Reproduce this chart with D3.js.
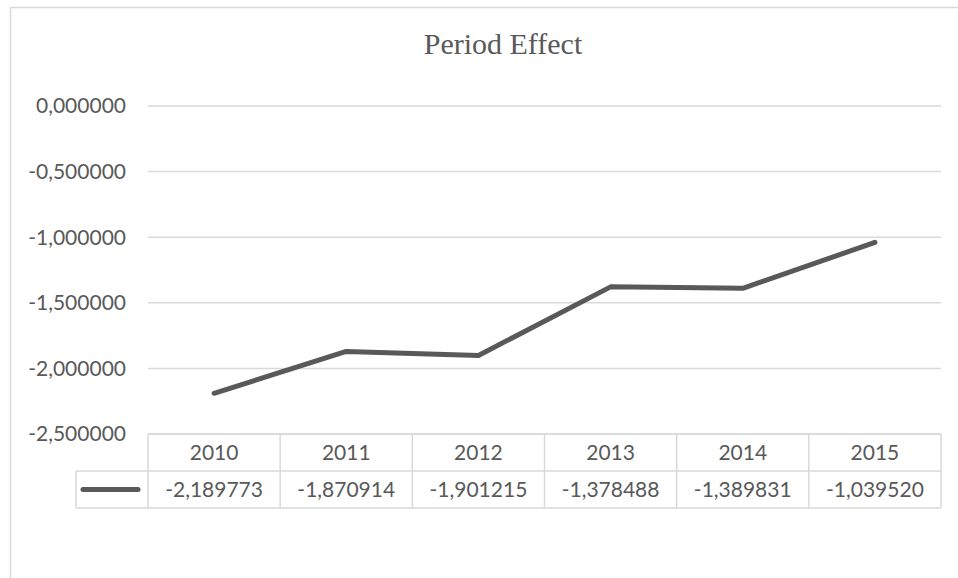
<!DOCTYPE html>
<html>
<head>
<meta charset="utf-8">
<script src="https://cdn.jsdelivr.net/npm/d3@7"></script>
<style>
  body { margin: 0; background: #fff; }
  svg { display: block; }
</style>
</head>
<body>
<div id="chart"></div>
<script>
var years = ["2010", "2011", "2012", "2013", "2014", "2015"];
var periodEffect = [-2.189773, -1.870914, -1.901215, -1.378488, -1.389831, -1.03952];
var yTicks = [0, -0.5, -1, -1.5, -2, -2.5];

var svgWidth = 958;
var svgHeight = 578;

// plot area (table sits right under it)
var plot = { left: 148, right: 941, top: 106, bottom: 434 };
var rowH = 37;
var legendLeft = 76;

var textColor = "#595959";
var gridColor = "#d9d9d9";

var svg = d3
  .select("#chart")
  .append("svg")
  .attr("width", svgWidth)
  .attr("height", svgHeight);

// comma as decimal separator, plain hyphen for minus
var locale = d3.formatLocale({ decimal: ",", thousands: ".", grouping: [3], currency: ["", ""], minus: "-" });
var fmt = locale.format(".6f");

// chart border (wider than the window, so right/bottom are clipped)
svg.append("rect")
  .attr("x", 10.5)
  .attr("y", 7.5)
  .attr("width", 980)
  .attr("height", 600)
  .attr("fill", "none")
  .attr("stroke", gridColor)
  .attr("stroke-width", 1.5);

var xScale = d3.scaleBand()
  .domain(years)
  .range([plot.left, plot.right]);

var yScale = d3.scaleLinear()
  .domain([-2.5, 0])
  .range([plot.bottom, plot.top]);

// title
svg.append("text")
  .attr("x", 503)
  .attr("y", 54)
  .attr("text-anchor", "middle")
  .attr("font-family", "'Liberation Serif', 'Times New Roman', serif")
  .attr("font-size", "30px")
  .attr("fill", textColor)
  .text("Period Effect");

// gridlines
svg.append("g")
  .selectAll("line")
  .data(yTicks)
  .enter()
  .append("line")
  .attr("x1", plot.left)
  .attr("x2", plot.right)
  .attr("y1", d => yScale(d))
  .attr("y2", d => yScale(d))
  .attr("stroke", gridColor)
  .attr("stroke-width", 1.5);

// y axis labels
svg.append("g")
  .selectAll("text")
  .data(yTicks)
  .enter()
  .append("text")
  .attr("x", 126)
  .attr("y", d => yScale(d))
  .attr("dy", "0.35em")
  .attr("text-anchor", "end")
  .attr("font-family", "Lato, 'Open Sans', sans-serif")
  .attr("font-size", "21px")
  .attr("fill", textColor)
  .text(d => fmt(d));

// the line
var line = d3.line()
  .x((d, i) => xScale(years[i]) + xScale.bandwidth() / 2)
  .y(d => yScale(d));

svg.append("path")
  .datum(periodEffect)
  .attr("d", line)
  .attr("fill", "none")
  .attr("stroke", textColor)
  .attr("stroke-width", 5)
  .attr("stroke-linecap", "round")
  .attr("stroke-linejoin", "round");

// data table
var table = svg.append("g");
var row1 = plot.bottom;
var row2 = plot.bottom + rowH;
var row3 = plot.bottom + rowH * 2;

// horizontal table lines
table.append("line")
  .attr("x1", plot.left).attr("x2", plot.right)
  .attr("y1", row1).attr("y2", row1);
table.append("line")
  .attr("x1", legendLeft).attr("x2", plot.right)
  .attr("y1", row2).attr("y2", row2);
table.append("line")
  .attr("x1", legendLeft).attr("x2", plot.right)
  .attr("y1", row3).attr("y2", row3);

// vertical table lines
var edges = years.map(d => xScale(d)).concat([plot.right]);
table.selectAll(".vline")
  .data(edges)
  .enter()
  .append("line")
  .attr("class", "vline")
  .attr("x1", d => d).attr("x2", d => d)
  .attr("y1", row1).attr("y2", row3);
table.append("line")
  .attr("x1", legendLeft).attr("x2", legendLeft)
  .attr("y1", row2).attr("y2", row3);

table.selectAll("line")
  .attr("stroke", gridColor)
  .attr("stroke-width", 1.5);

// header row: years
table.selectAll(".yr")
  .data(years)
  .enter()
  .append("text")
  .attr("class", "yr")
  .attr("x", d => xScale(d) + xScale.bandwidth() / 2)
  .attr("y", (row1 + row2) / 2)
  .attr("dy", "0.35em")
  .attr("text-anchor", "middle")
  .attr("font-family", "Lato, 'Open Sans', sans-serif")
  .attr("font-size", "21px")
  .attr("fill", textColor)
  .text(d => d);

// value row
table.selectAll(".val")
  .data(periodEffect)
  .enter()
  .append("text")
  .attr("class", "val")
  .attr("x", (d, i) => xScale(years[i]) + xScale.bandwidth() / 2)
  .attr("y", (row2 + row3) / 2)
  .attr("dy", "0.35em")
  .attr("text-anchor", "middle")
  .attr("font-family", "Lato, 'Open Sans', sans-serif")
  .attr("font-size", "21px")
  .attr("fill", textColor)
  .text(d => fmt(d));

// legend key in the table
table.append("line")
  .attr("x1", 83)
  .attr("x2", 138)
  .attr("y1", (row2 + row3) / 2)
  .attr("y2", (row2 + row3) / 2)
  .attr("stroke", textColor)
  .attr("stroke-width", 5)
  .attr("stroke-linecap", "round");
</script>
</body>
</html>
